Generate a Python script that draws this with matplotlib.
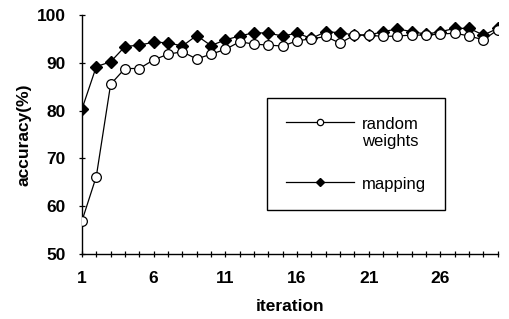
import matplotlib
matplotlib.use("Agg")
import matplotlib.pyplot as plt
import numpy as np

iterations = np.arange(1, 31)
random_weights = [56.9, 66.2, 85.5, 88.8, 88.8, 90.6, 91.8, 92.3, 90.8, 91.8,
                  92.8, 94.4, 93.9, 93.7, 93.5, 94.6, 95.0, 95.5, 94.1, 95.8,
                  95.8, 95.5, 95.6, 95.8, 95.8, 96.0, 96.2, 95.6, 94.8, 96.9]
mapping = [80.3, 89.2, 90.2, 93.4, 93.7, 94.3, 94.2, 93.5, 95.7, 93.6,
           94.8, 95.6, 96.3, 96.2, 95.6, 96.2, 95.1, 96.5, 96.3, 95.8,
           95.8, 96.5, 97.1, 96.5, 96.0, 96.5, 97.2, 97.2, 95.8, 97.2]
x_ticklabels = [1, 6, 11, 16, 21, 26]
y_ticks = [50, 60, 70, 80, 90, 100]

plt.rcParams['font.family'] = ['Liberation Sans', 'DejaVu Sans']
plt.rcParams['font.weight'] = 'bold'

fig = plt.figure(figsize=(5.09, 3.19), dpi=100)
ax = fig.add_axes([0.161, 0.204, 0.817, 0.749])

ax.plot(iterations, random_weights, color='black', lw=0.9, marker='o',
        markersize=7, markerfacecolor='white', markeredgecolor='black',
        markeredgewidth=0.9, label='random\nweights', zorder=3)
ax.plot(iterations, mapping, color='black', lw=0.9, marker='D',
        markersize=6, markerfacecolor='black', markeredgecolor='black',
        label='mapping', zorder=2)

ax.set_xlim(1, 30)
ax.set_ylim(50, 100)
ax.set_xticks(iterations)
ax.set_xticklabels([str(i) if i in x_ticklabels else '' for i in iterations])
ax.set_yticks(y_ticks)

for s in ['top', 'right']:
    ax.spines[s].set_visible(False)
for s in ['left', 'bottom']:
    ax.spines[s].set_linewidth(1.0)
ax.tick_params(axis='both', direction='inout', length=5, width=0.9,
               labelsize=12.5)
ax.tick_params(axis='x', pad=10)
ax.tick_params(axis='y', pad=9)

ax.set_xlabel('iteration', fontsize=12.5, fontweight='bold', labelpad=9)
ax.set_ylabel('accuracy(%)', fontsize=12.5, fontweight='bold', labelpad=4)

# legend box: 267..445 px wide, top at 98 px
leg = ax.legend(loc='upper left',
                bbox_to_anchor=(267 / 509, 1 - 208 / 319, 178 / 509, 110 / 319),
                bbox_transform=fig.transFigure, mode='expand',
                frameon=True, fancybox=False, edgecolor='black',
                framealpha=1, fontsize=12, handlelength=4.1, markerscale=0.65,
                labelspacing=1.65, borderpad=1.12, handletextpad=0.5,
                borderaxespad=0)
leg.get_frame().set_linewidth(1.0)
for t in leg.get_texts():
    t.set_fontweight('normal')
# put the handle next to the first line of the two-line label
for col in leg._legend_handle_box.get_children():
    for row in col.get_children():
        row.align = 'top'

fig.savefig('out.png', dpi=100)
